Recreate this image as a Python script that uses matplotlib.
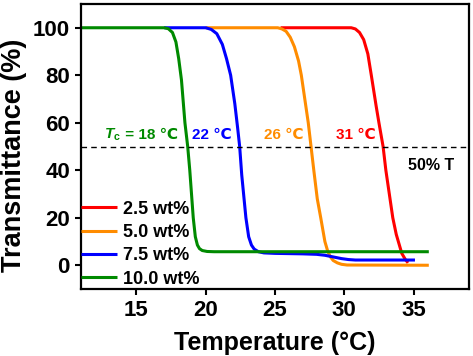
import matplotlib
matplotlib.use("Agg")
import matplotlib.pyplot as plt

plt.rcParams['font.family'] = ['Liberation Sans', 'DejaVu Sans']
plt.rcParams['font.weight'] = 'bold'
plt.rcParams['mathtext.fontset'] = 'custom'
plt.rcParams['mathtext.rm'] = 'Liberation Sans:bold'
plt.rcParams['mathtext.it'] = 'Liberation Sans:italic:bold'

# series (temperature in °C, transmittance in %)
labels = ['2.5 wt%', '5.0 wt%', '7.5 wt%', '10.0 wt%']
colors = ['#ff0000', '#ff8c00', '#0000ff', '#008a00']

t_25 = [25.4, 30.5, 30.8, 31.1, 31.4, 31.7, 31.95, 32.3, 32.5, 32.8, 33.0, 33.25, 33.5, 33.75, 33.95, 34.15, 34.4, 34.6]
T_25 = [100, 100, 99.5, 98, 95, 89, 80, 67, 60, 50, 40, 30, 20, 13, 9, 5, 2.5, 1]

t_50 = [20.0, 25.2, 25.5, 25.8, 26.1, 26.4, 26.7, 26.9, 27.2, 27.4, 27.6, 27.8, 28.05, 28.3, 28.6, 28.8, 29.0, 29.2, 29.5, 29.8, 30.2, 36.1]
T_50 = [100, 100, 99.5, 98.5, 96, 92, 86, 80, 68, 60, 50, 40, 28, 20, 10, 6, 3.5, 2, 1, 0.4, 0.1, 0]

t_75 = [17.0, 20.0, 20.4, 20.8, 21.2, 21.5, 21.8, 22.1, 22.3, 22.45, 22.6, 22.9, 23.1, 23.3, 23.5, 23.8, 24.2, 25.0, 27.0, 28.0, 28.6, 29.2, 29.8, 30.3, 30.8, 35.1]
T_75 = [100, 100, 99.3, 97.5, 93, 87, 80, 68, 58, 50, 38, 20, 12, 8.5, 6.8, 5.7, 5.2, 5.0, 4.8, 4.6, 4.2, 3.5, 2.8, 2.4, 2.2, 2.2]

t_100 = [11.0, 17.0, 17.3, 17.6, 17.85, 18.05, 18.25, 18.5, 18.7, 18.85, 19.1, 19.25, 19.4, 19.55, 19.75, 20.1, 20.6, 36.1]
T_100 = [100, 100, 99.6, 98, 94, 87, 78, 60, 50, 40, 20, 12, 8.5, 7, 6.2, 5.8, 5.7, 5.7]

xticks = [15, 20, 25, 30, 35]
yticks = [0, 20, 40, 60, 80, 100]

fig = plt.figure(figsize=(4.73, 3.56), dpi=100)
ax = fig.add_axes([81 / 473, 67 / 356, 388 / 473, 285 / 356])

series = [(t_25, T_25), (t_50, T_50), (t_75, T_75), (t_100, T_100)]
for (t, T), c, lab in zip(series, colors, labels):
    ax.plot(t, T, color=c, lw=2.2, label=lab, solid_joinstyle='round', solid_capstyle='butt')

ax.axhline(50, color='black', ls=(0, (4, 3)), lw=1)

ax.set_xlim(11, 39)
ax.set_ylim(-10, 110)
ax.set_xticks(xticks)
ax.set_yticks(yticks)
ax.tick_params(direction='out', length=4, width=1.5, labelsize=16, pad=4, top=False, right=False)
for s in ax.spines.values():
    s.set_linewidth(1.6)

ax.set_xlabel('Temperature (°C)', fontsize=18, fontweight='bold', labelpad=7)
ax.set_ylabel('Transmittance (%)', fontsize=19.5, fontweight='bold')
ax.yaxis.set_label_coords(-0.14, 0.47)

# T_c label: math part right-aligned against the plain-text part so ℃ can use the fallback font
ax.text(13.9, 53.2, r'$T_{\rm c}$', color=colors[3], fontsize=11, ha='right', va='baseline')
ax.text(13.9, 53.2, ' = 18 ℃', color=colors[3], fontsize=11, ha='left', va='baseline')
ax.text(19.0, 53.2, '22 ℃', color=colors[2], fontsize=11, va='baseline')
ax.text(24.2, 53.2, '26 ℃', color=colors[1], fontsize=11, va='baseline')
ax.text(29.4, 53.2, '31 ℃', color=colors[0], fontsize=11, va='baseline')
ax.text(34.6, 40, '50% T', color='black', fontsize=11.5, va='baseline')

leg = ax.legend(loc='lower left', bbox_to_anchor=(0, 0.005), frameon=False, fontsize=13,
                borderaxespad=0, borderpad=0, handlelength=2.0, handletextpad=0.3,
                labelspacing=0.35)

fig.savefig('out.png', dpi=100)
